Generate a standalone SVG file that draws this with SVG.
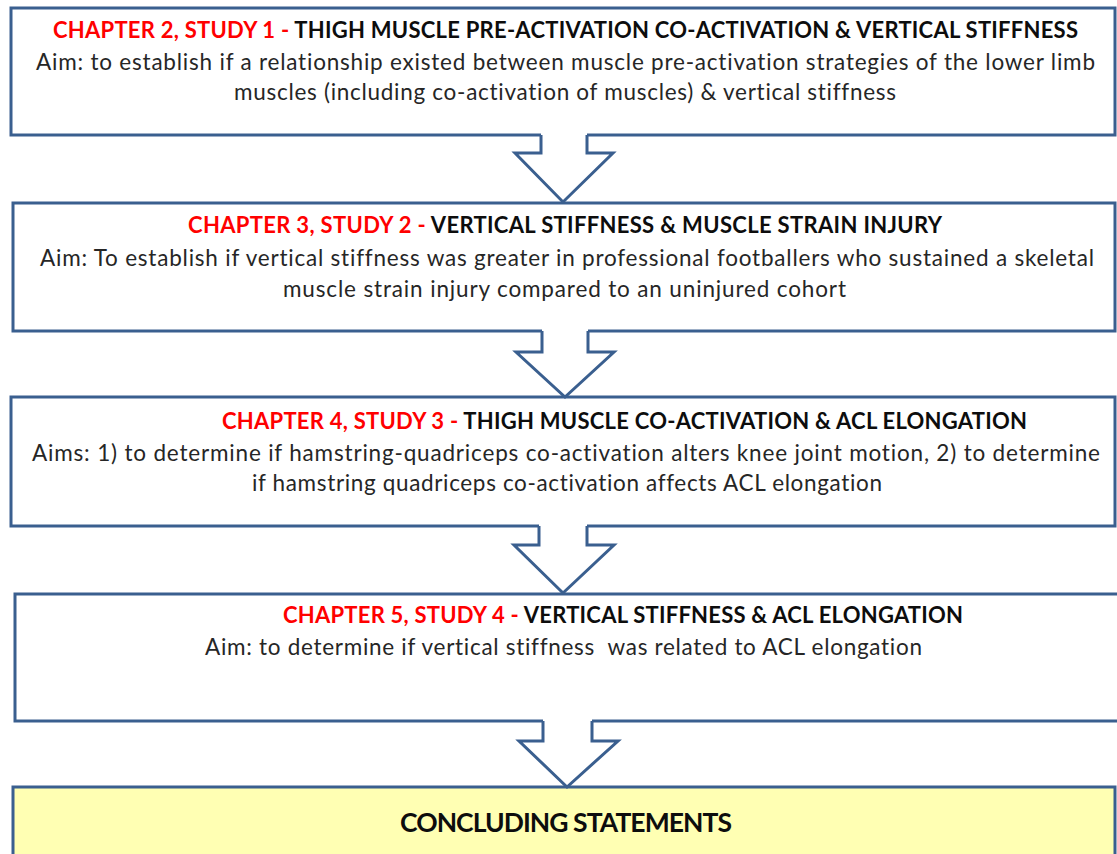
<svg xmlns="http://www.w3.org/2000/svg" width="1117" height="854" viewBox="0 0 1117 854">
<style>
.box{fill:#ffffff;stroke:#3a5f8f;stroke-width:3}
.final{fill:#ffffb3;stroke:#3a5f8f;stroke-width:3}
.afill{fill:#ffffff;stroke:none}
.aline{fill:none;stroke:#3a5f8f;stroke-width:3;stroke-linejoin:miter}
text{font-family:Lato,"Liberation Sans",sans-serif;font-size:22.5px;font-variant-ligatures:none;font-feature-settings:"liga" 0,"dlig" 0}
.t{font-weight:bold;fill:#0d0d0d;font-size:22px}
.r{fill:#ff0000}
.b{fill:#262626}
.c{font-size:26.5px;font-weight:bold;fill:#0d0d0d}
</style>
<rect width="1117" height="854" fill="#ffffff"/>
<g id="box1">
<rect class="box" x="11" y="8" width="1104" height="127"/>
<text class="t" x="53" y="38" textLength="1025" lengthAdjust="spacing"><tspan class="r">CHAPTER 2, STUDY 1 - </tspan>THIGH MUSCLE PRE-ACTIVATION CO-ACTIVATION &amp; VERTICAL STIFFNESS</text>
<text class="b" x="36" y="70" textLength="1059" lengthAdjust="spacing">Aim: to establish if a relationship existed between muscle pre-activation strategies of the lower limb</text>
<text class="b" x="234" y="100" textLength="662" lengthAdjust="spacing">muscles (including co-activation of muscles) &amp; vertical stiffness</text>
</g>
<g id="box2">
<rect class="box" x="13" y="203" width="1102" height="128"/>
<text class="t" x="188" y="233" textLength="754" lengthAdjust="spacing"><tspan class="r">CHAPTER 3, STUDY 2 - </tspan>VERTICAL STIFFNESS &amp; MUSCLE STRAIN INJURY</text>
<text class="b" x="40" y="266" textLength="1054" lengthAdjust="spacing">Aim: To establish if vertical stiffness was greater in professional footballers who sustained a skeletal</text>
<text class="b" x="283" y="297" textLength="563" lengthAdjust="spacing">muscle strain injury compared to an uninjured cohort</text>
</g>
<g id="box3">
<rect class="box" x="11" y="397" width="1104" height="129"/>
<text class="t" x="222" y="429" textLength="805" lengthAdjust="spacing"><tspan class="r">CHAPTER 4, STUDY 3 - </tspan>THIGH MUSCLE CO-ACTIVATION &amp; ACL ELONGATION</text>
<text class="b" x="32" y="461" textLength="1068" lengthAdjust="spacing">Aims: 1) to determine if hamstring-quadriceps co-activation alters knee joint motion, 2) to determine</text>
<text class="b" x="252" y="491" textLength="630" lengthAdjust="spacing">if hamstring quadriceps co-activation affects ACL elongation</text>
</g>
<g id="box4">
<rect class="box" x="15" y="594" width="1112" height="127"/>
<text class="t" x="283" y="623" textLength="680" lengthAdjust="spacing"><tspan class="r">CHAPTER 5, STUDY 4 - </tspan>VERTICAL STIFFNESS &amp; ACL ELONGATION</text>
<text class="b" x="205" y="655" textLength="717" lengthAdjust="spacing" xml:space="preserve">Aim: to determine if vertical stiffness  was related to ACL elongation</text>
</g>
<g id="box5">
<rect class="final" x="13" y="787" width="1102" height="80"/>
<text class="c" x="400" y="832" textLength="332" lengthAdjust="spacing">CONCLUDING STATEMENTS</text>
</g>
<g id="connectors">
<polygon class="afill" points="541,131 587,131 587,153 613,153 563,202 515,153 541,153"/>
<polyline class="aline" points="541,135 541,153 515,153 563,202 613,153 587,153 587,135"/>
<polygon class="afill" points="542,327 588,327 588,352 614,352 565,397 516,352 542,352"/>
<polyline class="aline" points="542,331 542,352 516,352 565,397 614,352 588,352 588,331"/>
<polygon class="afill" points="539,522 587,522 587,545 614,545 563,593 514,545 539,545"/>
<polyline class="aline" points="539,526 539,545 514,545 563,593 614,545 587,545 587,526"/>
<polygon class="afill" points="543,717 592,717 592,741 618,741 567,787 519,741 543,741"/>
<polyline class="aline" points="543,721 543,741 519,741 567,787 618,741 592,741 592,721"/>
</g>
</svg>
